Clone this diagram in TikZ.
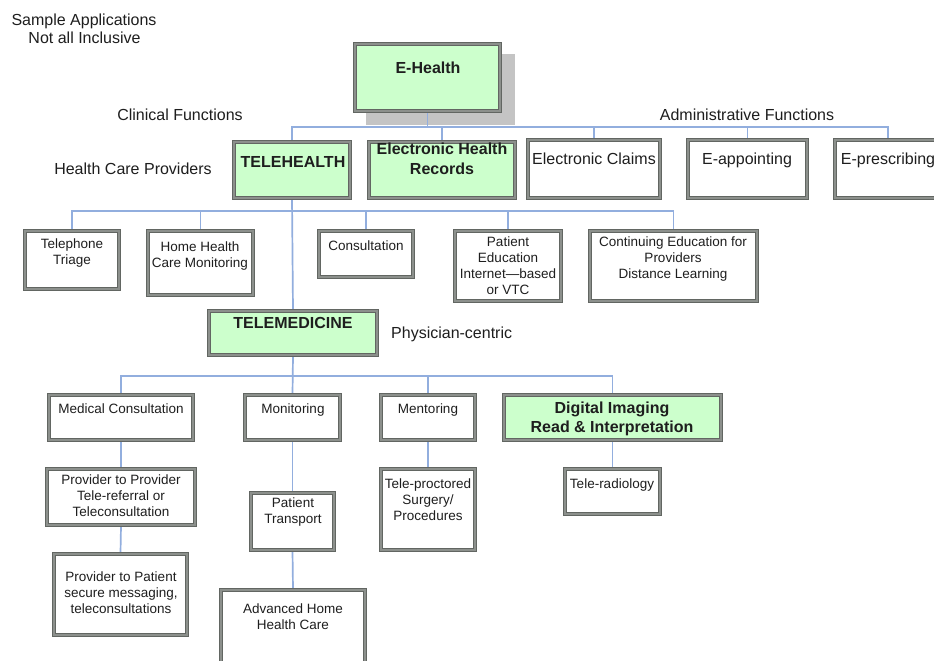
\documentclass[tikz,border=0pt]{standalone}
\usepackage{fontspec}
\setmainfont{Liberation Sans}
\usetikzlibrary{backgrounds}
\definecolor{hgreen}{RGB}{204,255,204}
\definecolor{boxdark}{RGB}{98,102,98}
\definecolor{boxlight}{RGB}{140,144,140}
\definecolor{connblue}{RGB}{146,174,222}
\definecolor{shadowgray}{RGB}{196,196,196}
\definecolor{txtc}{RGB}{30,30,30}
\newcommand\mkbox[6][]{%
  \node[box,#1,minimum width={(#4-#2)*1pt-3.8pt},minimum height={(#5-#3)*1pt-3.8pt}] (#6) at ({(#2+#4)/2},{(#3+#5)/2}) {};}
\begin{document}
\begin{tikzpicture}[x=1pt,y=-1pt,
  box/.style={draw=boxdark, double=boxlight, double distance=1.4pt, line width=1.2pt, fill=white, inner sep=0pt},
  gbox/.style={fill=hgreen},
  conn/.style={draw=connblue, line width=1.7pt},
  big/.style={font=\fontsize{16}{20}\selectfont, align=center, inner sep=0pt, text=txtc},
  bigb/.style={font=\fontsize{16}{20}\selectfont\bfseries, align=center, inner sep=0pt, text=txtc},
  small/.style={font=\fontsize{13.5}{16}\selectfont, align=center, inner sep=0pt, text=txtc}]
\clip (0,0) rectangle (934,661);
\useasboundingbox (0,0) rectangle (934,661);

% boxes
\mkbox[gbox]{353}{42}{502}{113}{eh}
\mkbox[gbox]{232}{140}{352}{200}{th}
\mkbox[gbox]{367}{140}{517}{200}{ehr}
\mkbox{526}{138}{662}{200}{ec}
\mkbox{686}{138}{809}{200}{ea}
\mkbox{833}{138}{943}{200}{ep}
\mkbox{23}{229}{121}{291}{tt}
\mkbox{146}{229}{255}{297}{hh}
\mkbox{317}{229}{415}{279}{co}
\mkbox{453}{229}{563}{303}{pe}
\mkbox{588}{229}{759}{303}{ce}
\mkbox[gbox]{207}{309}{379}{357}{tm}
\mkbox{47}{393}{195}{442}{mc}
\mkbox{243}{393}{342}{442}{mo}
\mkbox{379}{393}{477}{442}{me}
\mkbox[gbox]{502}{393}{723}{442}{di}
\mkbox{45}{467}{197}{527}{pp}
\mkbox{52}{552}{189}{637}{ppat}
\mkbox{249}{491}{336}{552}{pt}
\mkbox{219}{588}{367}{675}{ahc}
\mkbox{379}{467}{477}{552}{tp}
\mkbox{563}{467}{662}{516}{tr}

% background, shadow and connectors
\begin{scope}[on background layer]
\fill[white] (0,0) rectangle (934,661);
\fill[shadowgray] (366,54) rectangle (515,125);
\draw[conn] (eh.south) -- (eh.south |- 0,127);
\draw[conn] (th.north) |- (ep.north |- 0,127) -- (ep.north);
\draw[conn] (ehr.north) -- (ehr.north |- 0,127);
\draw[conn] (ec.north) -- (ec.north |- 0,127);
\draw[conn] (ea.north) -- (ea.north |- 0,127);
\draw[conn] (th.south) -- (tm.north);
\draw[conn] (tt.north) |- (ce.north |- 0,211) -- (ce.north);
\draw[conn] (hh.north) -- (hh.north |- 0,211);
\draw[conn] (co.north) -- (co.north |- 0,211);
\draw[conn] (pe.north) -- (pe.north |- 0,211);
\draw[conn] (tm.south) -- (mo.north);
\draw[conn] (mc.north) |- (di.north |- 0,376) -- (di.north);
\draw[conn] (me.north) -- (me.north |- 0,376);
\draw[conn] (mc.south) -- (pp.north);
\draw[conn] (pp.south) -- (ppat.north);
\draw[conn] (mo.south) -- (pt.north);
\draw[conn] (pt.south) -- (ahc.north);
\draw[conn] (me.south) -- (tp.north);
\draw[conn] (di.south) -- (tr.north);
\end{scope}

% box texts
\node[bigb,anchor=north] (ehT) at (428,62) {E-Health};
\node[bigb,anchor=north] (thT) at (293,156) {TELEHEALTH};
\node[bigb,anchor=north] (ehrT) at (442,143) {Electronic Health\\Records};
\node[big,anchor=north] (ecT) at (594,153) {Electronic Claims};
\node[big,anchor=north] (eaT) at (747,153) {E-appointing};
\node[big,anchor=north] (epT) at (888,153) {E-prescribing};
\node[small,anchor=north] (ttT) at (72,239) {Telephone\\Triage};
\node[small,anchor=north] (hhT) at (200,242) {Home Health\\Care Monitoring};
\node[small,anchor=north] (coT) at (366,241) {Consultation};
\node[small,anchor=north] (peT) at (508,237) {Patient\\Education\\Internet—based\\or VTC};
\node[small,anchor=north] (ceT) at (673,237) {Continuing Education for\\Providers\\Distance Learning};
\node[bigb,anchor=north] (tmT) at (293,317) {TELEMEDICINE};
\node[small,anchor=north] (mcT) at (121,404) {Medical Consultation};
\node[small,anchor=north] (moT) at (293,404) {Monitoring};
\node[small,anchor=north] (meT) at (428,404) {Mentoring};
\node[bigb,anchor=north,font=\fontsize{16}{19}\selectfont\bfseries] (diT) at (612,402) {Digital Imaging\\Read \& Interpretation};
\node[small,anchor=north] (ppT) at (121,475) {Provider to Provider\\Tele-referral or\\Teleconsultation};
\node[small,anchor=north] (ppatT) at (121,572) {Provider to Patient\\secure messaging,\\teleconsultations};
\node[small,anchor=north] (ptT) at (293,498) {Patient\\Transport};
\node[small,anchor=north] (ahcT) at (293,604) {Advanced Home\\Health Care};
\node[small,anchor=north] (tpT) at (428,479) {Tele-proctored\\Surgery/\\Procedures};
\node[small,anchor=north] (trT) at (612,479) {Tele-radiology};

% free labels
\node[big,anchor=base] (lab1) at (84,26) {Sample Applications};
\node[big,anchor=base] (lab2) at (84.5,44) {Not all Inclusive};
\node[big,anchor=base] (lab3) at (180,120) {Clinical Functions};
\node[big,anchor=base] (lab4) at (747,120) {Administrative Functions};
\node[big,anchor=base] (lab5) at (133,174) {Health Care Providers};
\node[big,anchor=base west] (lab6) at (391,338) {Physician-centric};
\end{tikzpicture}
\end{document}
